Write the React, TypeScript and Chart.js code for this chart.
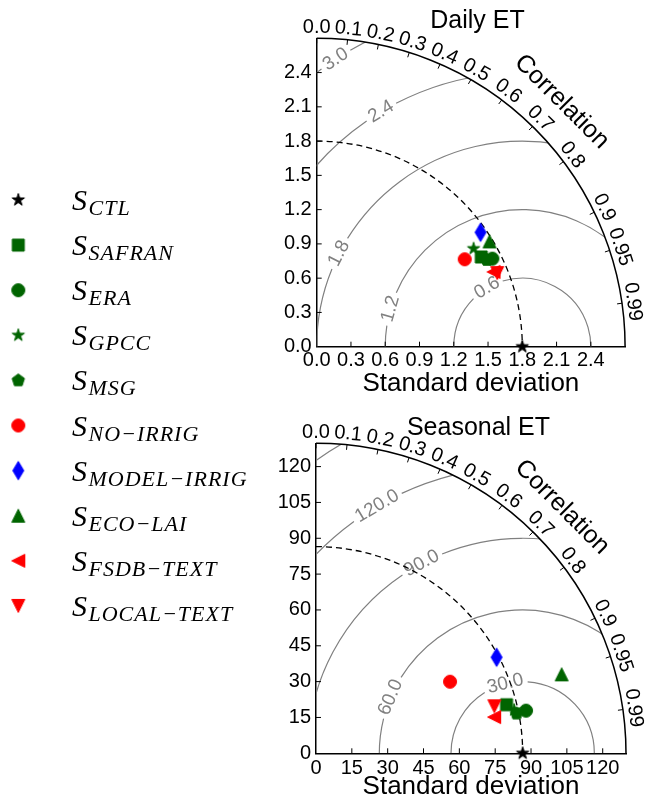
import React, { useEffect, useRef } from 'react';
import { Chart, registerables } from 'chart.js';
Chart.register(...registerables);

const SANS = '"Liberation Sans", Arial, sans-serif';
const SERIF = '"Liberation Serif", "Times New Roman", serif';

// ---- series ----
const SERIES_NAMES = ['CTL', 'SAFRAN', 'ERA', 'GPCC', 'MSG', 'NO\u2212IRRIG', 'MODEL\u2212IRRIG', 'ECO\u2212LAI', 'FSDB\u2212TEXT', 'LOCAL\u2212TEXT'];
const SERIES_COLORS = ['#000000', '#006400', '#006400', '#006400', '#006400', '#ff0000', '#0000ff', '#006400', '#ff0000', '#ff0000'];
const SERIES_MARKERS = ['star', 'square', 'circle', 'star', 'pentagon', 'circle', 'thinDiamond', 'triangleUp', 'triangleLeft', 'triangleDown'];

// ---- Daily ET ----
const DAILY_TITLE = 'Daily ET';
const DAILY_REF_STD = 1.8;
const DAILY_STD = [1.80, 1.641, 1.720, 1.620, 1.673, 1.505, 1.749, 1.772, 1.681, 1.707];
const DAILY_CORR = [1.0, 0.878, 0.894, 0.848, 0.891, 0.861, 0.820, 0.854, 0.921, 0.926];
const DAILY_AXIS_TICKS = [0, 0.3, 0.6, 0.9, 1.2, 1.5, 1.8, 2.1, 2.4];
const DAILY_RMS_LEVELS = [0.6, 1.2, 1.8, 2.4, 3.0];
const DAILY_RMS_LABELS = ['0.6', '1.2', '1.8', '2.4', '3.0'];

// ---- Seasonal ET ----
const SEASONAL_TITLE = 'Seasonal ET';
const SEASONAL_REF_STD = 86.5;
const SEASONAL_STD = [86.5, 82.3, 89.7, 84.9, 85.6, 63.6, 85.6, 108.0, 76.1, 77.2];
const SEASONAL_CORR = [1.0, 0.969, 0.980, 0.977, 0.981, 0.882, 0.883, 0.952, 0.980, 0.967];
const SEASONAL_AXIS_TICKS = [0, 15, 30, 45, 60, 75, 90, 105, 120];
const SEASONAL_RMS_LEVELS = [30, 60, 90, 120, 150];
const SEASONAL_RMS_LABELS = ['30.0', '60.0', '90.0', '120.0', ''];

// ---- correlation axis ----
const CORR_TICKS = [0, 0.1, 0.2, 0.3, 0.4, 0.5, 0.6, 0.7, 0.8, 0.9, 0.95, 0.99];
const CORR_TICK_LABELS = ['0.0', '0.1', '0.2', '0.3', '0.4', '0.5', '0.6', '0.7', '0.8', '0.9', '0.95', '0.99'];

// ---- layout (positions only) ----
const DAILY_LAYOUT = {
  canvasTop: 0, canvasHeight: 805, left: 316.7, top: 38.3, size: 308.4,
  titleX: 477.5, titleBaseline: 28, axisTitleMid: 384.3, xTickPad: 1.5,
  labelAngles: [121, 164, 153, 121, 123], legend: true,
};
const SEASONAL_LAYOUT = {
  canvasTop: 400, canvasHeight: 405, left: 316, top: 43.3, size: 310,
  titleX: 478.5, titleBaseline: 35, axisTitleMid: 386.7, xTickPad: 3,
  labelAngles: [104, 157, 118, 120.5, 0], legend: false,
};
const LEGEND_ROW_Y0 = 200;
const LEGEND_ROW_STEP = 45.1;

function makeMarker(shape: string, color: string): HTMLCanvasElement {
  const c = document.createElement('canvas');
  c.width = 22; c.height = 22;
  const g = c.getContext('2d')!;
  const m = 11, h = 6.5;
  g.fillStyle = color; g.strokeStyle = color; g.lineWidth = 1;
  g.beginPath();
  const poly = (pts: number[][]) => { pts.forEach((p, i) => (i ? g.lineTo(p[0], p[1]) : g.moveTo(p[0], p[1]))); };
  switch (shape) {
    case 'circle': g.arc(m, m, h, 0, Math.PI * 2); break;
    case 'square': g.rect(m - 6, m - 6, 12, 12); break;
    case 'star': {
      const pts: number[][] = [];
      for (let i = 0; i < 10; i++) {
        const r = i % 2 === 0 ? h : h * 0.381966;
        const a = -Math.PI / 2 + (i * Math.PI) / 5;
        pts.push([m + r * Math.cos(a), m + r * Math.sin(a)]);
      }
      poly(pts); break;
    }
    case 'pentagon': {
      const pts: number[][] = [];
      for (let i = 0; i < 5; i++) {
        const a = -Math.PI / 2 + (i * 2 * Math.PI) / 5;
        pts.push([m + h * Math.cos(a), m + h * Math.sin(a)]);
      }
      poly(pts); break;
    }
    case 'thinDiamond': poly([[m, m - 9.2], [m + 5.5, m], [m, m + 9.2], [m - 5.5, m]]); break;
    case 'triangleUp': poly([[m, m - h], [m + h, m + h], [m - h, m + h]]); break;
    case 'triangleLeft': poly([[m - h, m], [m + h, m - h], [m + h, m + h]]); break;
    case 'triangleDown': poly([[m, m + h], [m + h, m - h], [m - h, m - h]]); break;
  }
  g.closePath(); g.fill(); g.stroke();
  return c;
}

type Panel = {
  title: string; ref: number; std: number[]; corr: number[]; ticks: number[];
  levels: number[]; levelLabels: string[]; fmt: (v: number) => string; layout: typeof DAILY_LAYOUT;
};

const DAILY_PANEL: Panel = {
  title: DAILY_TITLE, ref: DAILY_REF_STD, std: DAILY_STD, corr: DAILY_CORR, ticks: DAILY_AXIS_TICKS,
  levels: DAILY_RMS_LEVELS, levelLabels: DAILY_RMS_LABELS, fmt: (v) => v.toFixed(1), layout: DAILY_LAYOUT,
};
const SEASONAL_PANEL: Panel = {
  title: SEASONAL_TITLE, ref: SEASONAL_REF_STD, std: SEASONAL_STD, corr: SEASONAL_CORR, ticks: SEASONAL_AXIS_TICKS,
  levels: SEASONAL_RMS_LEVELS, levelLabels: SEASONAL_RMS_LABELS, fmt: (v) => String(Math.round(v)), layout: SEASONAL_LAYOUT,
};

function taylorPlugin(p: Panel, markers: HTMLCanvasElement[]) {
  const L = p.layout;
  return {
    id: 'taylor',
    beforeDatasetsDraw(chart: any) {
      const ctx: CanvasRenderingContext2D = chart.ctx;
      const xs = chart.scales.x, ys = chart.scales.y;
      const ox = xs.getPixelForValue(0), oy = ys.getPixelForValue(0);
      const k = xs.getPixelForValue(1) - ox;
      const rmax = xs.max;
      const R = rmax * k;
      const cx = xs.getPixelForValue(p.ref);

      // RMS contours
      ctx.save();
      ctx.beginPath();
      ctx.moveTo(ox, oy);
      ctx.arc(ox, oy, R, -Math.PI / 2, 0, false);
      ctx.closePath();
      ctx.clip();
      ctx.strokeStyle = '#808080';
      ctx.lineWidth = 1.2;
      ctx.font = `19px ${SANS}`;
      p.levels.forEach((lv, i) => {
        const r = lv * k;
        const label = p.levelLabels[i];
        const arcSeg = (a: number, b: number) => {
          if (b <= a) return;
          ctx.beginPath();
          ctx.arc(cx, oy, r, -b, -a, false);
          ctx.stroke();
        };
        if (label) {
          const th = (L.labelAngles[i] * Math.PI) / 180;
          const w = ctx.measureText(label).width;
          const g = (w / 2 + 4) / r;
          arcSeg(0, th - g);
          arcSeg(th + g, Math.PI);
          ctx.save();
          ctx.translate(cx + r * Math.cos(th), oy - r * Math.sin(th));
          ctx.rotate(Math.PI / 2 - th);
          ctx.fillStyle = '#808080';
          ctx.textAlign = 'center';
          ctx.textBaseline = 'middle';
          ctx.fillText(label, 0, 0);
          ctx.restore();
        } else {
          arcSeg(0, Math.PI);
        }
      });
      ctx.restore();

      // reference std arc
      ctx.save();
      ctx.strokeStyle = '#000';
      ctx.lineWidth = 1.3;
      ctx.setLineDash([6, 4]);
      ctx.beginPath();
      ctx.arc(ox, oy, p.ref * k, -Math.PI / 2, 0, false);
      ctx.stroke();
      ctx.restore();

      // outer arc
      ctx.save();
      ctx.strokeStyle = '#000';
      ctx.lineWidth = 1.5;
      ctx.beginPath();
      ctx.arc(ox, oy, R, -Math.PI / 2, 0, false);
      ctx.stroke();

      // correlation ticks + labels
      ctx.lineWidth = 1;
      ctx.fillStyle = '#000';
      ctx.font = `20px ${SANS}`;
      ctx.textAlign = 'center';
      ctx.textBaseline = 'middle';
      CORR_TICKS.forEach((c, i) => {
        const th = Math.acos(c);
        const cs = Math.cos(th), sn = Math.sin(th);
        ctx.beginPath();
        ctx.moveTo(ox + (R - 5) * cs, oy - (R - 5) * sn);
        ctx.lineTo(ox + R * cs, oy - R * sn);
        ctx.stroke();
        ctx.save();
        ctx.translate(ox + (R + 11) * cs, oy - (R + 11) * sn);
        ctx.rotate(Math.PI / 2 - th);
        ctx.fillText(CORR_TICK_LABELS[i], 0, 0);
        ctx.restore();
      });
      // Correlation title
      ctx.save();
      const tth = Math.PI / 4;
      ctx.translate(ox + (R + 38) * Math.cos(tth), oy - (R + 38) * Math.sin(tth));
      ctx.rotate(Math.PI / 2 - tth);
      ctx.font = `25px ${SANS}`;
      ctx.fillText('Correlation', 0, 0);
      ctx.restore();

      // inward axis ticks
      ctx.lineWidth = 1;
      p.ticks.forEach((v) => {
        if (v <= 0) return;
        const px = xs.getPixelForValue(v);
        ctx.beginPath(); ctx.moveTo(px, oy); ctx.lineTo(px, oy - 5); ctx.stroke();
        const py = ys.getPixelForValue(v);
        ctx.beginPath(); ctx.moveTo(ox, py); ctx.lineTo(ox + 5, py); ctx.stroke();
      });

      // panel title
      ctx.font = `25px ${SANS}`;
      ctx.textAlign = 'center';
      ctx.textBaseline = 'alphabetic';
      ctx.fillText(p.title, L.titleX, L.titleBaseline);
      ctx.restore();
    },
    afterDraw(chart: any) {
      if (!L.legend) return;
      const ctx: CanvasRenderingContext2D = chart.ctx;
      ctx.save();
      SERIES_NAMES.forEach((name, i) => {
        const y = LEGEND_ROW_Y0 + i * LEGEND_ROW_STEP;
        const mk = markers[i];
        ctx.drawImage(mk, 18.3 - mk.width / 2, y - mk.height / 2);
        ctx.fillStyle = '#000';
        ctx.textAlign = 'left';
        ctx.textBaseline = 'alphabetic';
        ctx.font = `italic 30px ${SERIF}`;
        ctx.fillText('S', 72, y + 10);
        const sw = ctx.measureText('S').width;
        ctx.font = `italic 22px ${SERIF}`;
        (ctx as any).letterSpacing = '1px';
        ctx.fillText(name, 72 + sw + 1.5, y + 15);
        (ctx as any).letterSpacing = '0px';
      });
      ctx.restore();
    },
  };
}

function makeConfig(p: Panel, markers: HTMLCanvasElement[]): any {
  const L = p.layout;
  const rmax = 1.5 * p.ref;
  const chartBottom = L.top + L.size;
  const titleHalf = (26 * 1.2) / 2;
  const hx = L.axisTitleMid + titleHalf - chartBottom;
  const padBottom = L.canvasHeight - chartBottom - hx;
  const padRight = 646 - (L.left + L.size);
  const datasets = SERIES_NAMES.map((name, i) => ({
    label: name,
    data: [{ x: p.std[i] * p.corr[i], y: p.std[i] * Math.sqrt(Math.max(0, 1 - p.corr[i] * p.corr[i])) }],
    pointStyle: markers[i],
    pointRadius: 7,
    backgroundColor: SERIES_COLORS[i],
    borderColor: SERIES_COLORS[i],
    order: -i,
    clip: false,
  }));
  const tickFont = { family: SANS, size: 20 };
  return {
    type: 'scatter',
    data: { datasets },
    options: {
      animation: false,
      responsive: false,
      maintainAspectRatio: false,
      events: [],
      layout: { padding: { left: 0, top: L.top, right: padRight, bottom: padBottom }, autoPadding: false },
      plugins: { legend: { display: false }, tooltip: { enabled: false }, title: { display: false } },
      scales: {
        x: {
          type: 'linear', min: 0, max: rmax,
          afterBuildTicks: (ax: any) => { ax.ticks = p.ticks.map((v) => ({ value: v })); },
          afterFit: (ax: any) => { ax.height = hx; },
          grid: { display: false, drawTicks: false },
          border: { display: true, color: '#000', width: 1.5 },
          ticks: { autoSkip: false, maxRotation: 0, minRotation: 0, padding: L.xTickPad, color: '#000', font: tickFont, callback: (v: any) => p.fmt(Number(v)) },
          title: { display: true, text: 'Standard deviation', color: '#000', font: { family: SANS, size: 26 }, padding: 0 },
        },
        y: {
          type: 'linear', min: 0, max: rmax,
          afterBuildTicks: (ax: any) => { ax.ticks = p.ticks.map((v) => ({ value: v })); },
          afterFit: (ax: any) => { ax.width = L.left; },
          grid: { display: false, drawTicks: false },
          border: { display: true, color: '#000', width: 1.5 },
          ticks: { autoSkip: false, padding: 5, color: '#000', font: tickFont, callback: (v: any) => p.fmt(Number(v)) },
        },
      },
    },
    plugins: [taylorPlugin(p, markers)],
  };
}

export default function App() {
  const topRef = useRef<HTMLCanvasElement>(null);
  const botRef = useRef<HTMLCanvasElement>(null);
  useEffect(() => {
    const markers = SERIES_MARKERS.map((m, i) => makeMarker(m, SERIES_COLORS[i]));
    const c1 = new Chart(topRef.current as HTMLCanvasElement, makeConfig(DAILY_PANEL, markers));
    const c2 = new Chart(botRef.current as HTMLCanvasElement, makeConfig(SEASONAL_PANEL, markers));
    return () => { c1.destroy(); c2.destroy(); };
  }, []);
  return (
    <div style={{ position: 'absolute', left: 0, top: 0, width: 646, height: 805, background: '#fff', overflow: 'hidden' }}>
      <canvas ref={topRef} width={646} height={DAILY_LAYOUT.canvasHeight}
        style={{ position: 'absolute', left: 0, top: DAILY_LAYOUT.canvasTop, width: 646, height: DAILY_LAYOUT.canvasHeight }} />
      <canvas ref={botRef} width={646} height={SEASONAL_LAYOUT.canvasHeight}
        style={{ position: 'absolute', left: 0, top: SEASONAL_LAYOUT.canvasTop, width: 646, height: SEASONAL_LAYOUT.canvasHeight }} />
    </div>
  );
}
